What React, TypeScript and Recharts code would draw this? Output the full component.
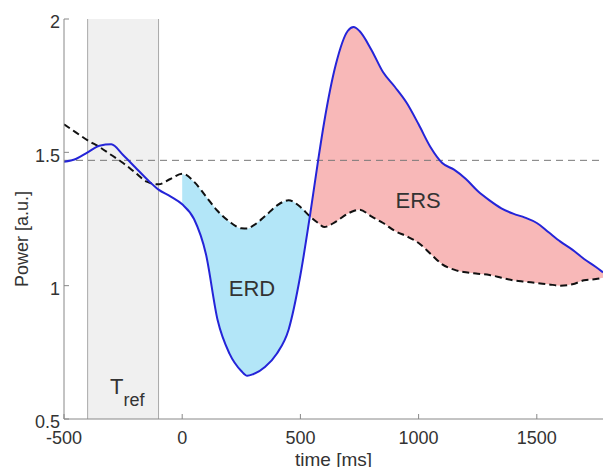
import {
  ComposedChart,
  Line,
  Area,
  XAxis,
  YAxis,
  ReferenceArea,
  ReferenceLine,
  ReferenceDot,
  Label,
} from 'recharts';

const FONT = '"Liberation Sans", Arial, sans-serif';

// time axis (ms), shared by both curves
const times = [
  -500, -450, -400, -350, -300, -250, -200, -150, -100, -50,
  0, 50, 100, 150, 200, 250, 275, 300, 350, 400, 450, 500, 540, 575,
  600, 650, 700, 725, 750, 800, 850, 900, 950, 1000, 1050, 1100,
  1150, 1200, 1250, 1300, 1350, 1400, 1450, 1500, 1550, 1600, 1650,
  1700, 1750, 1780,
];

// band power (solid blue)
const power = [
  1.465, 1.475, 1.5, 1.525, 1.53, 1.49, 1.445, 1.4, 1.36, 1.335,
  1.305, 1.25, 1.12, 0.87, 0.745, 0.68, 0.662, 0.668, 0.695, 0.745, 0.835, 1.04, 1.26, 1.47,
  1.61, 1.83, 1.955, 1.97, 1.955, 1.885, 1.8, 1.745, 1.685, 1.605, 1.52, 1.46,
  1.435, 1.4, 1.355, 1.32, 1.29, 1.27, 1.255, 1.235, 1.2, 1.165, 1.135,
  1.1, 1.07, 1.05,
];

// comparison curve (black dashed)
const control = [
  1.605, 1.575, 1.545, 1.52, 1.49, 1.46, 1.425, 1.39, 1.38, 1.4,
  1.42, 1.39, 1.335, 1.28, 1.24, 1.215, 1.214, 1.225, 1.26, 1.3, 1.32, 1.295, 1.26, 1.235,
  1.22, 1.24, 1.27, 1.28, 1.285, 1.26, 1.235, 1.205, 1.185, 1.16, 1.12, 1.08,
  1.06, 1.05, 1.045, 1.04, 1.03, 1.02, 1.015, 1.01, 1.005, 1.0, 1.005,
  1.02, 1.025, 1.03,
];

const baseline = 1.47;
const refStart = -400;
const refEnd = -100;
const crossing = 540;

const xTicks = [-500, 0, 500, 1000, 1500];
const yTicks = [0.5, 1, 1.5, 2];

const data = times.map((t, i) => ({
  t,
  power: power[i],
  control: control[i],
  erd: t >= 0 && t <= crossing ? [power[i], control[i]] : null,
  ers: t >= crossing ? [control[i], power[i]] : null,
}));

function XTick({ x, y, payload }: any) {
  return (
    <g>
      <line x1={x} x2={x} y1={y} y2={y - 5} stroke="#888" />
      <text x={x} y={y + 25} textAnchor="middle" fontSize={18} fill="#333" fontFamily={FONT}>
        {payload.value}
      </text>
    </g>
  );
}

function YTick({ x, y, payload }: any) {
  return (
    <g>
      <line x1={x} x2={x + 5} y1={y} y2={y} stroke="#888" />
      <text x={x - 4} y={y + 3} dy="0.36em" textAnchor="end" fontSize={18} fill="#333" fontFamily={FONT}>
        {payload.value}
      </text>
    </g>
  );
}

function TrefLabel({ viewBox }: any) {
  const cx = viewBox.x + viewBox.width / 2;
  const bottom = viewBox.y + viewBox.height;
  return (
    <text x={cx - 13} y={bottom - 25} fontSize={22} fill="#333" fontFamily={FONT}>
      T
      <tspan dy={12} fontSize={18}>ref</tspan>
    </text>
  );
}

export default function App() {
  return (
    <div style={{ position: 'absolute', left: 0, top: 0, background: '#fff' }}>
      <ComposedChart
        width={603}
        height={467}
        data={data}
        margin={{ top: 19, right: 0, left: 0, bottom: 0 }}
      >
        <ReferenceArea
          x1={refStart}
          x2={refEnd}
          fill="#f0f0f0"
          fillOpacity={1}
          stroke="none"
          label={<TrefLabel />}
        />
        <ReferenceLine x={refStart} stroke="#a8a8a8" />
        <ReferenceLine x={refEnd} stroke="#a8a8a8" />
        <XAxis
          dataKey="t"
          type="number"
          domain={[-500, 1780]}
          ticks={xTicks}
          allowDataOverflow
          height={48}
          tickSize={0}
          tickMargin={0}
          tickLine={false}
          axisLine={{ stroke: '#888' }}
          tick={<XTick />}
        >
          <Label
            value="time [ms]"
            content={({ viewBox }: any) => (
              <text
                x={viewBox.x + viewBox.width / 2}
                y={viewBox.y + 47}
                textAnchor="middle"
                fontSize={19}
                fill="#333"
                fontFamily={FONT}
              >
                time [ms]
              </text>
            )}
          />
        </XAxis>
        <YAxis
          type="number"
          domain={[0.5, 2]}
          ticks={yTicks}
          allowDataOverflow
          width={64}
          tickSize={0}
          tickMargin={0}
          tickLine={false}
          axisLine={{ stroke: '#888' }}
          tick={<YTick />}
        >
          <Label
            value="Power [a.u.]"
            content={({ viewBox }: any) => {
              const cy = viewBox.y + viewBox.height / 2 + 20;
              return (
                <text
                  x={22}
                  y={cy}
                  transform={`rotate(-90 22 ${cy})`}
                  textAnchor="middle"
                  dominantBaseline="central"
                  fontSize={18}
                  fill="#333"
                  fontFamily={FONT}
                >
                  Power [a.u.]
                </text>
              );
            }}
          />
        </YAxis>
        <ReferenceLine y={baseline} stroke="#777" strokeDasharray="7 5" />
        <Area
          type="monotone"
          dataKey="erd"
          fill="#b3e6f8"
          fillOpacity={1}
          stroke="none"
          isAnimationActive={false}
        />
        <Area
          type="monotone"
          dataKey="ers"
          fill="#f8b8b8"
          fillOpacity={1}
          stroke="none"
          isAnimationActive={false}
        />
        <Line
          type="monotone"
          dataKey="control"
          stroke="#111"
          strokeWidth={2}
          strokeDasharray="7 4"
          dot={false}
          isAnimationActive={false}
        />
        <Line
          type="monotone"
          dataKey="power"
          stroke="#2424d8"
          strokeWidth={2}
          dot={false}
          isAnimationActive={false}
        />
        <ReferenceDot
          x={295}
          y={0.99}
          r={0}
          fill="none"
          stroke="none"
          label={{ value: 'ERD', position: 'center', fontSize: 22, fill: '#333', fontFamily: FONT }}
        />
        <ReferenceDot
          x={998}
          y={1.32}
          r={0}
          fill="none"
          stroke="none"
          label={{ value: 'ERS', position: 'center', fontSize: 22, fill: '#333', fontFamily: FONT }}
        />
      </ComposedChart>
    </div>
  );
}
